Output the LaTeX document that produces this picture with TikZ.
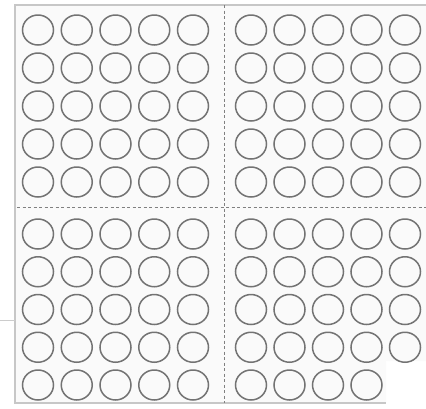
\documentclass[tikz,border=0pt]{standalone}
\usetikzlibrary{shapes.geometric}
\begin{document}
\begin{tikzpicture}[x=1pt,y=-1pt,
  ball/.style={ellipse,draw=black!55,line width=1.5pt,minimum width=31pt,minimum height=30pt,inner sep=0pt},
  frameline/.style={draw=black!22,line width=1.4pt},
  divider/.style={draw=black!50,line width=0.9pt,dash pattern=on 3pt off 2.5pt}]
\useasboundingbox (0,0) rectangle (426,408);
\fill[black!2] (15,5) -- (426,5) -- (426,361) -- (386,361) -- (386,403) -- (15,403) -- cycle;
\coordinate (tl) at (15,5);
\coordinate (tr) at (426,5);
\coordinate (bl) at (15,403);
\coordinate (br) at (386,403);
\coordinate (tick) at (0,320);
\coordinate (tickend) at (15,320);
\draw[frameline] (tr) -- (tl) -- (bl) -- (br);
\draw[draw=black!20,line width=0.6pt] (tick) -- (tickend);
\coordinate (vt) at (224.5,5);
\coordinate (vb) at (224.5,403);
\coordinate (hl) at (17,207.5);
\coordinate (hr) at (426,207.5);
\draw[divider] (vt) -- (vb);
\draw[divider] (hl) -- (hr);
% top-left
\foreach \r in {0,...,4}{\foreach \c in {0,...,4}{
  \node[ball] (a-\r-\c) at ({38+38.75*\c},{30+38*\r}) {};}}
% top-right
\foreach \r in {0,...,4}{\foreach \c in {0,...,4}{
  \node[ball] (b-\r-\c) at ({251+38.5*\c},{30+38*\r}) {};}}
% bottom-left
\foreach \r in {0,...,4}{\foreach \c in {0,...,4}{
  \node[ball] (c-\r-\c) at ({38+38.75*\c},{234+37.75*\r}) {};}}
% bottom-right
\foreach \r in {0,...,3}{\foreach \c in {0,...,4}{
  \node[ball] (d-\r-\c) at ({251+38.5*\c},{234+37.75*\r}) {};}}
\foreach \c in {0,...,3}{
  \node[ball] (d-4-\c) at ({251+38.5*\c},{234+37.75*4}) {};}
\end{tikzpicture}
\end{document}
